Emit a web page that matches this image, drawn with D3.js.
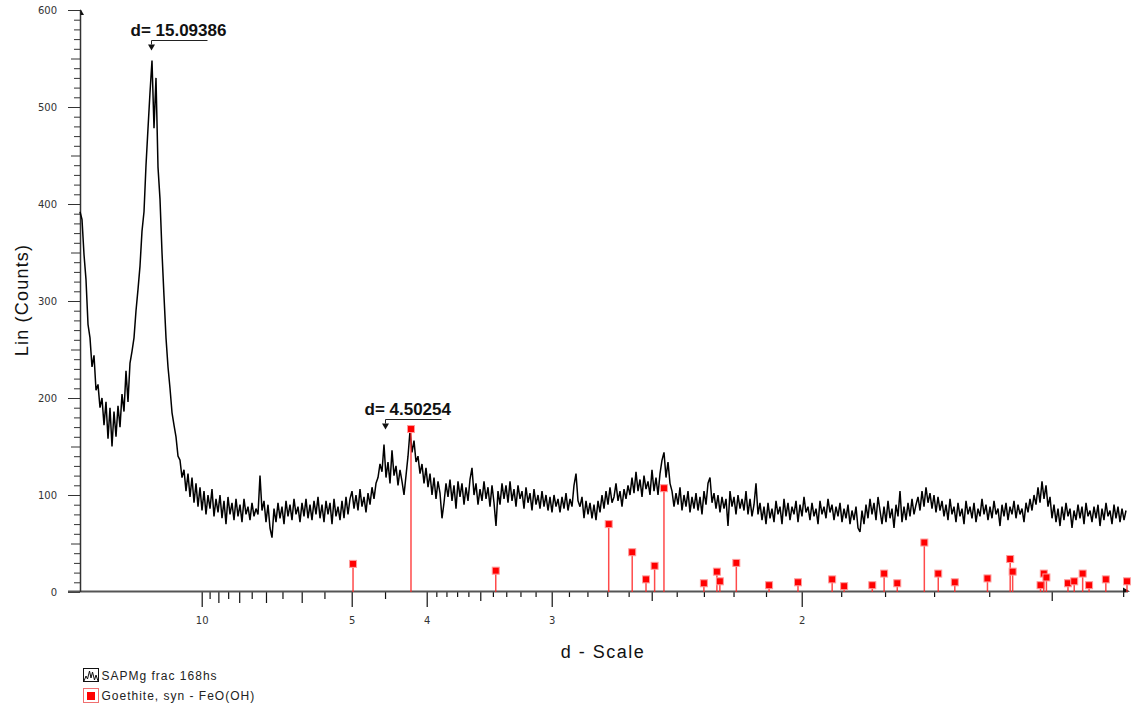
<!DOCTYPE html>
<html><head><meta charset="utf-8">
<script src="https://cdn.jsdelivr.net/npm/d3@7"></script>
<style>body{margin:0;background:#fff} svg{display:block}</style>
</head><body>
<svg id="c" width="1132" height="706"></svg>
<script>
// Scan sampled on an even grid of q = 1/d (1/Angstrom)
const qStart = 1 / 53.0;
const qStep = 0.0013333;
const counts = [
392,384,348,322,276,262,232,244,208,214,190,
200,172,196,158,190,150,186,160,192,170,
204,186,228,196,236,248,262,290,312,336,372,392,440,
478,515,548,478,530,438,
405,350,305,262,232,210,185,172,160,140,136,118,126,104,122,98,118,92,112,88,108,
84,104,80,100,86,106,78,96,82,100,
76,94,70,98,80,92,74,96,78,90,
72,96,80,88,74,92,78,86,80,120,
84,94,72,90,66,56,86,72,92,76,
88,70,94,78,90,74,96,80,88,72,
92,78,96,76,90,74,94,80,98,76,
90,72,94,80,92,70,96,78,88,74,
94,76,98,80,96,
104,86,100,84,106,88,98,82,102,90,108,96,112,
118,132,124,152,118,134,112,146,120,130,110,126,114,100,120,
140,166,144,156,134,140,122,132,112,128,108,122,100,118,96,114,102,76,92,112,98,116,94,110,86,114,98,
112,90,108,94,116,128,100,112,90,106,
94,114,96,108,88,110,92,68,104,90,
112,96,110,92,114,94,106,88,110,96,
104,86,108,92,102,84,106,90,100,86,
104,88,100,84,98,82,100,88,96,82,
98,86,102,84,96,88,110,122,94,88,
98,76,94,80,92,
76,90,74,94,82,100,86,104,90,108,92,98,112,94,104,88,106,96,110,100,
118,102,124,104,116,98,120,106,114,100,126,104,118,100,
122,136,144,118,134,112,
104,88,102,90,108,84,100,88,104,82,98,86,102,84,98,80,104,90,112,118,92,
102,86,100,82,98,86,96,68,104,88,98,80,100,86,96,84,104,
80,96,78,90,112,80,92,74,88,70,
92,76,86,72,94,80,88,70,96,78,
92,74,88,80,94,72,90,78,98,82,
88,74,92,78,86,70,94,80,88,76,
96,82,90,74,88,78,92,72,86,76,
90,70,84,74,88,66,62,84,70,90,
76,96,80,92,74,98,84,
70,88,72,94,76,86,66,90,78,104,72,88,74,92,78,96,80,90,
98,84,104,88,108,92,102,86,100,82,98,84,
94,78,90,74,96,80,88,72,92,78,
86,70,94,80,88,76,92,72,86,78,
96,80,90,74,88,76,94,80,86,68,
90,78,92,74,88,80,94,76,90,80,
86,72,92,82,96,84,
100,90,108,92,114,96,110,88,98,
76,90,72,86,68,88,74,92,78,86,
66,84,74,90,76,88,70,92,78,84,
72,88,76,90,68,86,74,92,78,84,
70,90,76,88,72,86,74,84
];
const goethiteD = [4.978,4.175,3.378,2.693,2.584,2.524,2.488,2.450,2.300,2.255,2.245,2.191,2.091,2.010,1.922,1.893,1.828,1.802,1.774,1.719,1.692,1.661,1.603,1.565,1.561,1.517,1.512,1.508,1.476,1.467,1.455,1.446,1.423,1.395];
const goethiteI = [29,168,22,70,41,13,27,107,9,21,11,30,7,10,13,6,7,19,9,51,19,10,14,34,21,7,19,15,9,11,19,7,13,11];

const yTicks = [0,100,200,300,400,500,600];
const yMidTicks = [50,150,250,350,450,550];
const yMinorTicks = [10,20,30,40,60,70,80,90,110,120,130,140,160,170,180,190,210,220,230,240,260,270,280,290,310,320,330,340,360,370,380,390,410,420,430,440,460,470,480,490,510,520,530,540,560,570,580,590];
const xLabelTicks = [10,5,4,3,2];
const xIntTicks = [9,8,7,6];
const xHalfTicks = [9.5,8.5,7.5,6.5,5.5,4.5];
const xMidTicks = [3.5,2.5,1.5];
const xTenthTicks = [3.9,3.8,3.7,3.6,3.4,3.3,3.2,3.1,2.9,2.8,2.7,2.6,2.4,2.3,2.2,2.1,1.9,1.8,1.7,1.6,1.4];
const peakD = [15.09386, 4.50254];
const peakLevel = [569, 178];
const legendNames = ["SAPMg frac 168hs", "Goethite, syn - FeO(OH)"];

const svg = d3.select("#c");
const x = d3.scaleLinear().domain([1 / 53.0, 1 / 1.3937]).range([80, 1128]);
const y = d3.scaleLinear().domain([0, 600]).range([592, 10]);

// ---- X axis (d-scale, linear in 1/d)
function xAxis(vals, size, labels, color) {
  const ax = d3.axisBottom(x).tickValues(vals.map(d => 1 / d)).tickSize(size).tickSizeOuter(0)
    .tickFormat(labels ? (q => String(Math.round(10 / q) / 10)) : "");
  const g = svg.append("g").attr("transform", "translate(0,592)").call(ax);
  g.select(".domain").remove();
  g.selectAll(".tick line").attr("stroke", color || "#111").attr("stroke-width", 1.2);
  g.selectAll("text").attr("font-family", "DejaVu Sans").attr("font-size", 10)
    .attr("fill", "#333").attr("y", 25).attr("dy", "0.71em");
}
xAxis(xLabelTicks, 15, true);
xAxis(xIntTicks, 11, false);
xAxis(xHalfTicks, 7, false);
xAxis(xMidTicks, 9, false);
xAxis(xTenthTicks, 5, false);

// ---- Y axis
function yAxis(vals, size, labels) {
  const ax = d3.axisLeft(y).tickValues(vals).tickSize(size).tickSizeOuter(0)
    .tickFormat(labels ? d3.format("d") : "");
  const g = svg.append("g").attr("transform", "translate(80,0)").call(ax);
  g.select(".domain").remove();
  g.selectAll(".tick line").attr("stroke", "#333");
  g.selectAll("text").attr("font-family", "DejaVu Sans").attr("font-size", 10)
    .attr("fill", "#333").attr("x", -23);
}
yAxis(yTicks, 12, true);
yAxis(yMidTicks, 9, false);
yAxis(yMinorTicks, 6, false);

// axis lines
svg.append("line").attr("x1", 68).attr("x2", 1128).attr("y1", 591.5).attr("y2", 591.5)
  .attr("stroke", "#555").attr("stroke-width", 1.8);
svg.append("line").attr("x1", 80.5).attr("x2", 80.5).attr("y1", 10).attr("y2", 592)
  .attr("stroke", "#333").attr("stroke-width", 1.5);
svg.append("path").attr("d", "M80.5,9 L84,15 L80.5,15 Z").attr("fill", "#111");
svg.append("path").attr("d", "M1123,587.5 L1130,591.5 L1123,592.5 Z").attr("fill", "#111");

// ---- Scan line
const line = d3.line().x((c, i) => x(qStart + i * qStep)).y(c => y(c));
svg.append("path").datum(counts).attr("d", line).attr("fill", "none")
  .attr("stroke", "#000").attr("stroke-width", 1.5).attr("stroke-linejoin", "bevel");

// ---- Goethite reference sticks
const sticks = svg.append("g");
goethiteD.forEach((d, i) => {
  const px = x(1 / d);
  sticks.append("line").attr("x1", px).attr("x2", px).attr("y1", y(0)).attr("y2", y(goethiteI[i]))
    .attr("stroke", "#ff2a2a").attr("stroke-width", 1.5).attr("stroke-opacity", 0.85);
  sticks.append("rect").attr("x", px - 3.5).attr("y", y(goethiteI[i]) - 3.5).attr("width", 7).attr("height", 7)
    .attr("fill", "#ff0000").attr("stroke", "#ff9c9c").attr("stroke-width", 1);
});

// ---- Peak annotations
peakD.forEach((d, i) => {
  const px = Math.round(x(1 / d)) + 0.5, ly = Math.round(y(peakLevel[i])) + 0.5;
  svg.append("path").attr("d", `M${px + 56},${ly} H${px} V${ly + 4}`).attr("fill", "none")
    .attr("stroke", "#222").attr("stroke-width", 1);
  svg.append("path").attr("d", `M${px - 3.5},${ly + 4} H${px + 3.5} L${px},${ly + 10} Z`).attr("fill", "#111");
  svg.append("text").attr("x", px - 21).attr("y", ly - 5).text("d= " + d)
    .attr("font-family", "Liberation Sans, Arial, sans-serif").attr("font-weight", "bold")
    .attr("font-size", 17).attr("fill", "#111");
});

// ---- Axis titles
svg.append("text").attr("x", 603).attr("y", 657.5).attr("text-anchor", "middle")
  .attr("font-family", "Liberation Sans, Arial, sans-serif").attr("font-size", 18)
  .attr("letter-spacing", 1.5).attr("fill", "#111").text("d - Scale");
svg.append("text").attr("transform", "translate(28,300) rotate(-90)").attr("text-anchor", "middle")
  .attr("font-family", "Liberation Sans, Arial, sans-serif").attr("font-size", 18)
  .attr("letter-spacing", 1.2).attr("fill", "#111").text("Lin (Counts)");

// ---- Legend
const lg = svg.append("g");
lg.append("rect").attr("x", 83.5).attr("y", 668.5).attr("width", 15).attr("height", 13)
  .attr("fill", "#fff").attr("stroke", "#111");
lg.append("path").attr("d", "M84,681 L86,676 L87.5,679 L89.5,671 L91,678 L92.5,672 L94.5,680 L96,675 L98,681")
  .attr("fill", "none").attr("stroke", "#111").attr("stroke-width", 1);
lg.append("rect").attr("x", 83.5).attr("y", 688.5).attr("width", 15).attr("height", 14)
  .attr("fill", "#fff").attr("stroke", "#f07070");
lg.append("rect").attr("x", 87).attr("y", 692).attr("width", 8).attr("height", 8).attr("fill", "#ff0000");
legendNames.forEach((n, i) => {
  lg.append("text").attr("x", 101.5).attr("y", 680 + i * 20).text(n)
    .attr("font-family", "Liberation Sans, Arial, sans-serif").attr("font-size", 12)
    .attr("letter-spacing", 1).attr("fill", "#222");
});
</script>
</body></html>
